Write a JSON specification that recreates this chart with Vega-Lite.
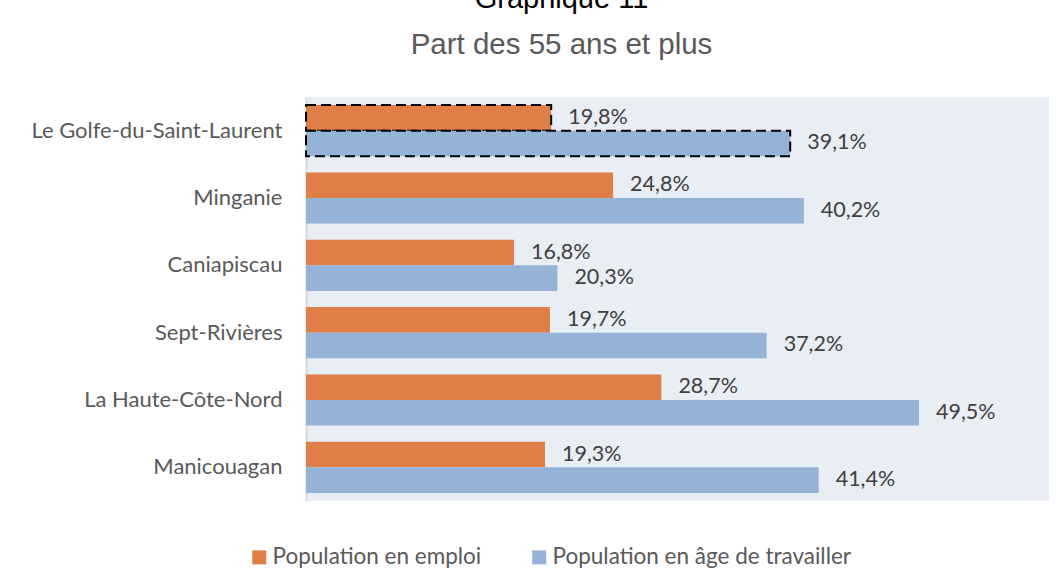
{
  "$schema": "https://vega.github.io/schema/vega-lite/v6.json",
  "autosize": "none",
  "width": 743,
  "height": 404,
  "padding": {"left": 306, "top": 97, "right": 15, "bottom": 82},
  "background": "white",
  "title": {
    "text": "Graphique 11",
    "subtitle": "Part des 55 ans et plus",
    "anchor": "middle",
    "frame": "group",
    "dx": -116,
    "font": "Liberation Sans",
    "fontSize": 29,
    "fontWeight": "normal",
    "color": "black",
    "subtitleFont": "Liberation Sans",
    "subtitleFontSize": 29.5,
    "subtitleColor": "#595959",
    "subtitlePadding": 17,
    "offset": 38
  },
  "data": {
    "values": [
      {"region": "Le Golfe-du-Saint-Laurent", "serie": "Population en emploi", "value": 0.198},
      {"region": "Le Golfe-du-Saint-Laurent", "serie": "Population en âge de travailler", "value": 0.391},
      {"region": "Minganie", "serie": "Population en emploi", "value": 0.248},
      {"region": "Minganie", "serie": "Population en âge de travailler", "value": 0.402},
      {"region": "Caniapiscau", "serie": "Population en emploi", "value": 0.168},
      {"region": "Caniapiscau", "serie": "Population en âge de travailler", "value": 0.203},
      {"region": "Sept-Rivières", "serie": "Population en emploi", "value": 0.197},
      {"region": "Sept-Rivières", "serie": "Population en âge de travailler", "value": 0.372},
      {"region": "La Haute-Côte-Nord", "serie": "Population en emploi", "value": 0.287},
      {"region": "La Haute-Côte-Nord", "serie": "Population en âge de travailler", "value": 0.495},
      {"region": "Manicouagan", "serie": "Population en emploi", "value": 0.193},
      {"region": "Manicouagan", "serie": "Population en âge de travailler", "value": 0.414}
    ]
  },
  "encoding": {
    "y": {
      "field": "region",
      "type": "nominal",
      "sort": null,
      "scale": {"paddingInner": 0.24, "paddingOuter": 0.12},
      "axis": {
        "title": null,
        "domain": true,
        "domainColor": "#D9D9D9",
        "domainWidth": 2,
        "ticks": false,
        "labelFont": "Lato",
        "labelFontSize": 22,
        "labelColor": "#595959",
        "labelPadding": 24,
        "labelLimit": 0
      }
    },
    "yOffset": {
      "field": "serie",
      "type": "nominal",
      "sort": ["Population en emploi", "Population en âge de travailler"]
    },
    "x": {
      "field": "value",
      "type": "quantitative",
      "scale": {"domain": [0, 0.6]},
      "axis": null
    }
  },
  "layer": [
    {
      "mark": {"type": "bar", "strokeDash": [10, 5], "strokeWidth": 2},
      "encoding": {
        "color": {
          "field": "serie",
          "type": "nominal",
          "scale": {
            "domain": ["Population en emploi", "Population en âge de travailler"],
            "range": ["#E07E48", "#95B3D7"]
          },
          "legend": {
            "title": null,
            "orient": "none",
            "direction": "horizontal",
            "legendX": -58,
            "legendY": 449,
            "symbolType": "square",
            "symbolSize": 196,
            "symbolStrokeWidth": 0,
            "labelFont": "Lato",
            "labelFontSize": 22.5,
            "labelColor": "#595959",
            "labelOffset": 2,
            "labelLimit": 0,
            "columnPadding": 46
          }
        },
        "stroke": {
          "condition": {"test": "datum.region === 'Le Golfe-du-Saint-Laurent'", "value": "black"},
          "value": null
        }
      }
    },
    {
      "mark": {"type": "text", "align": "left", "baseline": "middle", "dx": 17, "font": "Lato", "fontSize": 21.5, "color": "#404040"},
      "encoding": {
        "text": {"field": "value", "type": "quantitative", "format": ".1%"}
      }
    }
  ],
  "config": {
    "view": {"fill": "#E9EDF4", "stroke": null},
    "locale": {"number": {"decimal": ",", "thousands": " ", "grouping": [3], "currency": ["", " $"]}}
  }
}
